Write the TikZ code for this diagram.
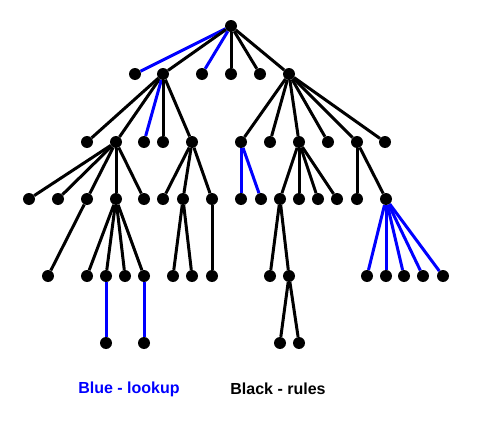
\documentclass[tikz,border=0pt]{standalone}
\usepackage{fontspec}
\setmainfont{Liberation Sans}
\usepackage{tikz}
\definecolor{lookupblue}{RGB}{0,0,255}
\tikzset{
	dotstyle/.style={circle,draw=none,fill=black,inner sep=0pt},
	rulestyle/.style={draw=black,line width=3pt},
	lookupstyle/.style={draw=lookupblue,line width=3pt},
	keystyle/.style={rectangle,font=\bfseries\fontsize{16}{18}\selectfont}
}
\begin{document}
\begin{tikzpicture}[x=1pt,y=-1pt]
	\useasboundingbox (0,0) rectangle (483,423);
	\node[dotstyle,minimum size=12] (0) at (231,26) {};
	\node[dotstyle,minimum size=12] (1) at (135,74) {};
	\node[dotstyle,minimum size=12] (2) at (163,74) {};
	\node[dotstyle,minimum size=12] (3) at (202,74) {};
	\node[dotstyle,minimum size=12] (4) at (231,74) {};
	\node[dotstyle,minimum size=12] (5) at (260,74) {};
	\node[dotstyle,minimum size=12] (6) at (289,74) {};
	\node[dotstyle,minimum size=12] (7) at (87,142) {};
	\node[dotstyle,minimum size=12] (8) at (116,142) {};
	\node[dotstyle,minimum size=12] (9) at (144,142) {};
	\node[dotstyle,minimum size=12] (10) at (163,142) {};
	\node[dotstyle,minimum size=12] (11) at (192,142) {};
	\node[dotstyle,minimum size=12] (12) at (241,142) {};
	\node[dotstyle,minimum size=12] (13) at (270,142) {};
	\node[dotstyle,minimum size=12] (14) at (299,142) {};
	\node[dotstyle,minimum size=12] (15) at (328,142) {};
	\node[dotstyle,minimum size=12] (16) at (357,142) {};
	\node[dotstyle,minimum size=12] (17) at (385,142) {};
	\node[dotstyle,minimum size=12] (18) at (29,199) {};
	\node[dotstyle,minimum size=12] (19) at (58,199) {};
	\node[dotstyle,minimum size=12] (20) at (87,199) {};
	\node[dotstyle,minimum size=12] (21) at (116,199) {};
	\node[dotstyle,minimum size=12] (22) at (144,199) {};
	\node[dotstyle,minimum size=12] (23) at (163,199) {};
	\node[dotstyle,minimum size=12] (24) at (183,199) {};
	\node[dotstyle,minimum size=12] (25) at (212,199) {};
	\node[dotstyle,minimum size=12] (26) at (241,199) {};
	\node[dotstyle,minimum size=12] (27) at (261,199) {};
	\node[dotstyle,minimum size=12] (28) at (280,199) {};
	\node[dotstyle,minimum size=12] (29) at (299,199) {};
	\node[dotstyle,minimum size=12] (30) at (318,199) {};
	\node[dotstyle,minimum size=12] (31) at (337,199) {};
	\node[dotstyle,minimum size=12] (32) at (357,199) {};
	\node[dotstyle,minimum size=12] (33) at (386,199) {};
	\node[dotstyle,minimum size=12] (34) at (48,276) {};
	\node[dotstyle,minimum size=12] (35) at (87,276) {};
	\node[dotstyle,minimum size=12] (36) at (106,276) {};
	\node[dotstyle,minimum size=12] (37) at (125,276) {};
	\node[dotstyle,minimum size=12] (38) at (144,276) {};
	\node[dotstyle,minimum size=12] (39) at (173,276) {};
	\node[dotstyle,minimum size=12] (40) at (192,276) {};
	\node[dotstyle,minimum size=12] (41) at (212,276) {};
	\node[dotstyle,minimum size=12] (42) at (270,276) {};
	\node[dotstyle,minimum size=12] (43) at (289,276) {};
	\node[dotstyle,minimum size=12] (44) at (367,276) {};
	\node[dotstyle,minimum size=12] (45) at (386,276) {};
	\node[dotstyle,minimum size=12] (46) at (404,276) {};
	\node[dotstyle,minimum size=12] (47) at (423,276) {};
	\node[dotstyle,minimum size=12] (48) at (443,276) {};
	\node[dotstyle,minimum size=12] (49) at (106,343) {};
	\node[dotstyle,minimum size=12] (50) at (144,343) {};
	\node[dotstyle,minimum size=12] (51) at (280,343) {};
	\node[dotstyle,minimum size=12] (52) at (299,343) {};
	\node[keystyle,text=lookupblue] (lookup) at (129,389) {Blue - lookup};
	\node[keystyle,text=black] (rules) at (278,389) {Black - rules};
	\draw[lookupstyle] (0)--(1);
	\draw[rulestyle] (0)--(2);
	\draw[lookupstyle] (0)--(3);
	\draw[rulestyle] (0)--(4);
	\draw[rulestyle] (0)--(5);
	\draw[rulestyle] (0)--(6);
	\draw[rulestyle] (2)--(7);
	\draw[rulestyle] (2)--(8);
	\draw[lookupstyle] (2)--(9);
	\draw[rulestyle] (2)--(10);
	\draw[rulestyle] (2)--(11);
	\draw[rulestyle] (6)--(12);
	\draw[rulestyle] (6)--(13);
	\draw[rulestyle] (6)--(14);
	\draw[rulestyle] (6)--(15);
	\draw[rulestyle] (6)--(16);
	\draw[rulestyle] (6)--(17);
	\draw[rulestyle] (8)--(18);
	\draw[rulestyle] (8)--(19);
	\draw[rulestyle] (8)--(20);
	\draw[rulestyle] (8)--(21);
	\draw[rulestyle] (8)--(22);
	\draw[rulestyle] (11)--(23);
	\draw[rulestyle] (11)--(24);
	\draw[rulestyle] (11)--(25);
	\draw[lookupstyle] (12)--(26);
	\draw[lookupstyle] (12)--(27);
	\draw[rulestyle] (14)--(28);
	\draw[rulestyle] (14)--(29);
	\draw[rulestyle] (14)--(30);
	\draw[rulestyle] (14)--(31);
	\draw[rulestyle] (16)--(32);
	\draw[rulestyle] (16)--(33);
	\draw[rulestyle] (20)--(34);
	\draw[rulestyle] (21)--(35);
	\draw[rulestyle] (21)--(36);
	\draw[rulestyle] (21)--(37);
	\draw[rulestyle] (21)--(38);
	\draw[rulestyle] (24)--(39);
	\draw[rulestyle] (24)--(40);
	\draw[rulestyle] (25)--(41);
	\draw[rulestyle] (28)--(42);
	\draw[rulestyle] (28)--(43);
	\draw[lookupstyle] (33)--(44);
	\draw[lookupstyle] (33)--(45);
	\draw[lookupstyle] (33)--(46);
	\draw[lookupstyle] (33)--(47);
	\draw[lookupstyle] (33)--(48);
	\draw[lookupstyle] (36)--(49);
	\draw[lookupstyle] (38)--(50);
	\draw[rulestyle] (43)--(51);
	\draw[rulestyle] (43)--(52);
\end{tikzpicture}
\end{document}
